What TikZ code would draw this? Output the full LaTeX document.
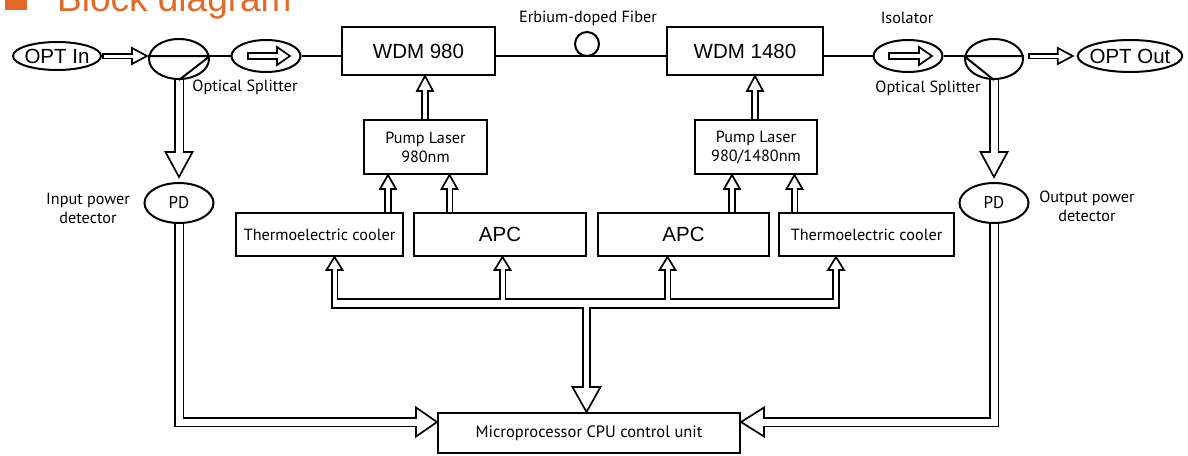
\documentclass[tikz,border=0pt]{standalone}
\usepackage{fontspec}
\setmainfont{Liberation Sans}
\newfontfamily\lbf{PT Sans}
\usetikzlibrary{calc,shapes.geometric}
\definecolor{ttl}{RGB}{226,106,40}
\pgfdeclarelayer{bg}
\pgfsetlayers{bg,main}
% hollow arrow head: tip, point it comes from, half width, length
\newcommand\headat[4]{%
  \coordinate (hbY) at ($(#1)!#4pt!(#2)$);
  \filldraw[headst] (#1) -- ($(hbY)!#3pt!90:(#1)$) -- ($(hbY)!#3pt!-90:(#1)$) -- cycle;}
% hollow straight arrow: start, tip, outer width, inner width, head half width, head length
\newcommand\harr[6]{%
  \coordinate (hbX) at ($(#2)!#6pt!(#1)$);
  \coordinate (hsX) at ($(#1)!1.6pt!(#2)$);
  \draw[line width=#3pt] (#1) -- (hbX);
  \headat{#2}{#1}{#5}{#6}%
  \draw[white,line width=#4pt] (hsX) -- ($(hbX)!-1.8pt!(#1)$);}
% vertical up arrow from node #1 to node #2 at x of coordinate #3
\newcommand\uparr[7]{%
  \coordinate (sX) at (#1.center -| #3);
  \coordinate (tX) at (#2.south -| #3);
  \harr{sX}{tX}{#4}{#5}{#6}{#7}}
\begin{document}
\begin{tikzpicture}[x=1pt,y=-1pt,
  box/.style={draw,line width=2pt,fill=white,inner sep=0pt},
  ell/.style={draw,ellipse,line width=2pt,fill=white,inner sep=0pt},
  headst/.style={draw=black,fill=white,line width=1.7pt,line join=miter},
  lbl/.style={font=\lbf\fontsize{16.2pt}{19pt}\selectfont,inner sep=0pt,align=center},
  arl/.style={font=\fontsize{20.5pt}{24pt}\selectfont},
  fib/.style={line width=2pt}]
\useasboundingbox (0,0) rectangle (1188,455);
% title
\fill[ttl] (5,-5) rectangle (27,10);
\node[anchor=base west,inner sep=0pt,text=ttl,font=\fontsize{37pt}{40pt}\selectfont] (title) at (57,11) {Block diagram};
\coordinate (yl) at (0,56);
% top row
\node[ell,arl,minimum width=88pt,minimum height=28pt,inner xsep=-2pt] (optin) at (57,56) {OPT In};
\node[ell,minimum width=60pt,minimum height=40pt] (spl1) at (179,59) {};
\node[ell,minimum width=69pt,minimum height=32pt] (iso1) at (266,56) {};
\node[box,arl,minimum width=153pt,minimum height=48pt] (wdm1) at (418.5,51) {WDM 980};
\node[draw,circle,line width=2pt,minimum size=24pt,inner sep=0pt] (edf) at (587,44) {};
\node[box,arl,minimum width=156pt,minimum height=48pt] (wdm2) at (745,51) {WDM 1480};
\node[ell,minimum width=69pt,minimum height=32pt] (iso2) at (908,56) {};
\node[ell,minimum width=58pt,minimum height=40pt] (spl2) at (994,59) {};
\node[ell,arl,minimum width=104pt,minimum height=32pt,inner xsep=-3.5pt] (optout) at (1130,56) {OPT Out};
% pumps
\node[box,lbl,minimum width=123pt,minimum height=54pt] (p1) at (425.5,147) {Pump Laser\\980nm};
\node[box,lbl,minimum width=122pt,minimum height=54pt] (p2) at (756,147) {Pump Laser\\980/1480nm};
% lower row
\node[box,lbl,minimum width=167pt,minimum height=43pt] (tec1) at (319.5,234.5) {Thermoelectric cooler};
\node[box,arl,minimum width=172pt,minimum height=43pt] (apc1) at (500,234.5) {APC};
\node[box,arl,minimum width=171pt,minimum height=43pt] (apc2) at (683.5,234.5) {APC};
\node[box,lbl,minimum width=175pt,minimum height=43pt] (tec2) at (866.5,234.5) {Thermoelectric cooler};
% detectors
\node[ell,lbl,font=\lbf\fontsize{17pt}{19pt}\selectfont,minimum width=69pt,minimum height=40pt] (pd1) at (179,203) {PD};
\node[ell,lbl,font=\lbf\fontsize{17pt}{19pt}\selectfont,minimum width=69pt,minimum height=40pt] (pd2) at (994,203) {PD};
% cpu
\node[box,lbl,font=\lbf\fontsize{16.5pt}{19pt}\selectfont,minimum width=302pt,minimum height=40pt] (cpu) at (589,433) {Microprocessor CPU control unit};
% labels
\node[lbl] (lsp1) at (245,87) {Optical Splitter};
\node[lbl] (lsp2) at (928,88) {Optical Splitter};
\node[lbl] (ledf) at (588,18) {Erbium-doped Fiber};
\node[lbl] (liso) at (907,18) {Isolator};
\node[lbl] (lin) at (88,208) {Input power\\detector};
\node[lbl] (lout) at (1087,206) {Output power\\detector};
% fibre line and splitter symbols
\draw[fib] (spl1.west|-yl) -- (spl1.east|-yl) -- (spl1.south);
\draw[fib] (spl1.east|-yl) -- (iso1.west);
\draw[fib] (iso1.east) -- (wdm1.west|-yl);
\draw[fib] (wdm1.east|-yl) -- (wdm2.west|-yl);
\draw[fib] (wdm2.east|-yl) -- (iso2.west);
\draw[fib] (iso2.east) -- (spl2.west|-yl);
\draw[fib] (spl2.south) -- (spl2.west|-yl) -- (spl2.east|-yl);
% optical hollow arrows
\coordinate (t1) at ($(spl1.west|-yl)+(-1,0)$);
\harr{optin.east}{t1}{6.4}{3}{8}{15}
\coordinate (o1s) at ($(spl2.east|-yl)+(4,0)$);
\coordinate (o1t) at ($(optout.west)+(-4,0)$);
\harr{o1s}{o1t}{6.4}{3}{8}{15}
\coordinate (i1s) at ($(iso1)+(-19,0)$);
\coordinate (i1t) at ($(iso1)+(24,0)$);
\harr{i1s}{i1t}{7.9}{4.5}{9}{13}
\coordinate (i2s) at ($(iso2)+(-20,0)$);
\coordinate (i2t) at ($(iso2)+(24,0)$);
\harr{i2s}{i2t}{7.9}{4.5}{9}{13}
% electrical / control pipes
\begin{pgfonlayer}{bg}
  % splitter -> PD
  \coordinate (a1t) at ($(pd1.north)+(0,-5)$);
  \harr{spl1.center}{a1t}{10.4}{7}{13.5}{25}
  \coordinate (a2t) at ($(pd2.north)+(0,-5)$);
  \harr{spl2.center}{a2t}{10.4}{7}{13.5}{25}
  % pump -> WDM
  \coordinate (xw1) at (425,0);
  \coordinate (xw2) at (755,0);
  \uparr{p1}{wdm1}{xw1}{7.4}{4}{8}{15}
  \uparr{p2}{wdm2}{xw2}{7.4}{4}{8}{15}
  % TEC / APC -> pump
  \coordinate (xa1) at (388,0);
  \coordinate (xa2) at (449.5,0);
  \coordinate (xa3) at (732,0);
  \coordinate (xa4) at (794.5,0);
  \uparr{tec1}{p1}{xa1}{7.4}{4}{8}{14}
  \uparr{apc1}{p1}{xa2}{7.4}{4}{8}{14}
  \uparr{apc2}{p2}{xa3}{7.4}{4}{8}{14}
  \uparr{tec2}{p2}{xa4}{7.4}{4}{8}{14}
  % PD -> CPU
  \coordinate (py) at (0,422);
  \coordinate (lc) at (pd1 |- py);
  \coordinate (lt) at (cpu.west |- py);
  \coordinate (lb) at ($(lt)+(-21,0)$);
  \draw[line width=10.4pt] (pd1.center) -- (lc) -- (lb);
  \headat{lt}{lc}{14.5}{21}
  \draw[white,line width=7pt] (pd1.center) -- (lc) -- ($(lb)+(1.8,0)$);
  \coordinate (rc) at (pd2 |- py);
  \coordinate (rt) at (cpu.east |- py);
  \coordinate (rb) at ($(rt)+(23,0)$);
  \draw[line width=10.4pt] (pd2.center) -- (rc) -- (rb);
  \headat{rt}{rc}{14.5}{23}
  \draw[white,line width=7pt] (pd2.center) -- (rc) -- ($(rb)+(-1.8,0)$);
  % control bus
  \coordinate (bus) at (0,303.5);
  \coordinate (xb1) at (334.5,0);
  \coordinate (xb2) at (502.5,0);
  \coordinate (xb3) at (667.5,0);
  \coordinate (xb4) at (836,0);
  \coordinate (xc) at (586.5,0);
  \coordinate (bc1) at (xb1 |- bus);
  \coordinate (bc2) at (xb2 |- bus);
  \coordinate (bc3) at (xb3 |- bus);
  \coordinate (bc4) at (xb4 |- bus);
  \coordinate (bcc) at (xc |- bus);
  \coordinate (bt1) at (tec1.south -| xb1);
  \coordinate (bt2) at (apc1.south -| xb2);
  \coordinate (bt3) at (apc2.south -| xb3);
  \coordinate (bt4) at (tec2.south -| xb4);
  \coordinate (bb1) at ($(bt1)+(0,13)$);
  \coordinate (bb2) at ($(bt2)+(0,13)$);
  \coordinate (bb3) at ($(bt3)+(0,13)$);
  \coordinate (bb4) at ($(bt4)+(0,13)$);
  \coordinate (ct) at (cpu.north -| xc);
  \coordinate (cb) at ($(ct)+(0,-25)$);
  % black walls
  \draw[line width=10.4pt] ($(bc1)+(-3.7,0)$) -- ($(bc4)+(3.7,0)$);
  \draw[line width=7.4pt] ($(bc1)+(0,5.2)$) -- (bb1);
  \draw[line width=7.4pt] (bc2) -- (bb2);
  \draw[line width=7.4pt] (bc3) -- (bb3);
  \draw[line width=7.4pt] ($(bc4)+(0,5.2)$) -- (bb4);
  \draw[line width=8.9pt] (bcc) -- (cb);
  % heads
  \headat{bt1}{bc1}{8}{13}
  \headat{bt2}{bc2}{8}{13}
  \headat{bt3}{bc3}{8}{13}
  \headat{bt4}{bc4}{8}{13}
  \headat{ct}{bcc}{14}{25}
  % white interiors
  \draw[white,line width=7pt] ($(bc1)+(-2,0)$) -- ($(bc4)+(2,0)$);
  \draw[white,line width=4pt] ($(bc1)+(0,3.5)$) -- ($(bb1)+(0,-1.8)$);
  \draw[white,line width=4pt] (bc2) -- ($(bb2)+(0,-1.8)$);
  \draw[white,line width=4pt] (bc3) -- ($(bb3)+(0,-1.8)$);
  \draw[white,line width=4pt] ($(bc4)+(0,3.5)$) -- ($(bb4)+(0,-1.8)$);
  \draw[white,line width=5.5pt] (bcc) -- ($(cb)+(0,1.8)$);
\end{pgfonlayer}
\end{tikzpicture}
\end{document}
